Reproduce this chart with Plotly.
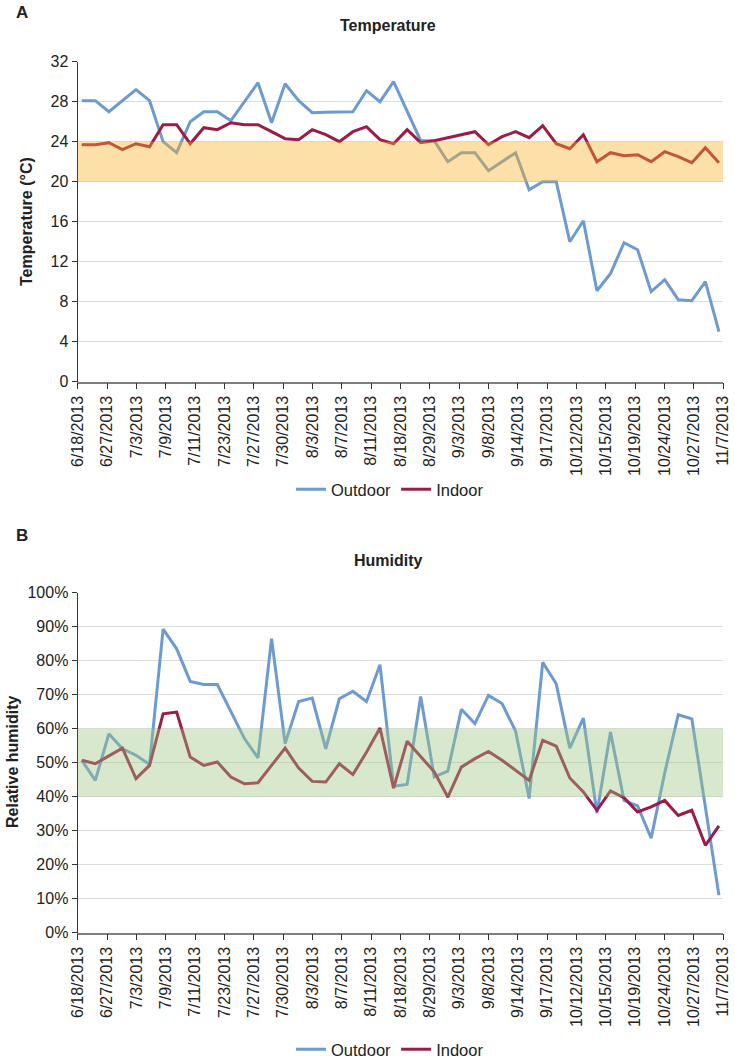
import numpy as np
import plotly.graph_objects as go

tick_labels = ["6/18/2013", "6/27/2013", "7/3/2013", "7/9/2013", "7/11/2013", "7/23/2013",
               "7/27/2013", "7/30/2013", "8/3/2013", "8/7/2013", "8/11/2013", "8/18/2013",
               "8/29/2013", "9/3/2013", "9/8/2013", "9/14/2013", "9/17/2013", "10/12/2013",
               "10/15/2013", "10/19/2013", "10/24/2013", "10/27/2013", "11/7/2013"]

temp_outdoor = [28.1, 28.1, 27.0, 28.1, 29.2, 28.1, 24.0, 22.9, 26.0, 27.0,
                27.0, 26.1, 28.0, 29.9, 25.9, 29.8, 28.1, 26.9, 26.95, 27.0,
                27.0, 29.1, 28.0, 30.0, 27.0, 24.1, 24.1, 22.0, 22.9, 22.9,
                21.1, 22.0, 22.9, 19.2, 20.0, 20.0, 14.0, 16.1, 9.1, 10.8,
                13.9, 13.2, 9.0, 10.2, 8.2, 8.1, 10.0, 5.0]
temp_indoor = [23.7, 23.7, 23.9, 23.2, 23.8, 23.5, 25.7, 25.7, 23.8, 25.4,
               25.2, 25.9, 25.7, 25.7, 25.0, 24.3, 24.2, 25.2, 24.7, 24.0,
               25.0, 25.5, 24.2, 23.8, 25.2, 23.9, 24.1, 24.4, 24.7, 25.0,
               23.7, 24.5, 25.0, 24.4, 25.6, 23.8, 23.3, 24.7, 22.0, 22.9,
               22.6, 22.7, 22.0, 23.0, 22.5, 21.9, 23.4, 21.9]
hum_outdoor = [50.7, 44.8, 58.5, 54.1, 52.2, 49.5, 89.3, 83.5, 73.9, 73.0,
               73.0, 65.1, 57.1, 51.4, 86.5, 55.6, 68.0, 69.0, 54.1, 68.8,
               71.0, 68.0, 78.8, 43.1, 43.6, 69.5, 45.8, 47.5, 65.7, 61.5,
               69.8, 67.4, 59.3, 39.5, 79.5, 73.2, 54.3, 63.1, 35.2, 59.0,
               38.9, 37.3, 27.8, 47.0, 64.1, 62.9, 37.0, 11.0]
hum_indoor = [50.7, 49.7, 52.0, 54.3, 45.3, 49.2, 64.4, 64.9, 51.7, 49.2,
              50.2, 45.8, 43.8, 44.1, 49.2, 54.3, 48.4, 44.5, 44.3, 49.7,
              46.5, 53.1, 60.2, 42.5, 56.3, 51.7, 47.3, 39.9, 48.7, 51.2,
              53.3, 50.7, 47.7, 44.8, 56.6, 54.9, 45.5, 41.4, 36.0, 41.7,
              39.7, 35.5, 37.0, 38.9, 34.5, 36.0, 25.7, 31.4]

temp_band = (20, 24)
hum_band = (40, 60)

BLUE = "#6C9BD2"
RED = "#9B1C47"
FONT = "Liberation Sans, Arial, sans-serif"
TXT = "#222222"

n = len(temp_outdoor)
x = list(range(n))
xr = [-0.3, n - 1 + 0.3]
tickpos = np.linspace(xr[0], xr[1], len(tick_labels))

W, H = 735, 1062
def fy(px):
    return 1 - px / H

fig = go.Figure()
fig.add_trace(go.Scatter(x=x, y=temp_outdoor, mode="lines", name="Outdoor",
                         line=dict(color=BLUE, width=3), xaxis="x", yaxis="y", legend="legend"))
fig.add_trace(go.Scatter(x=x, y=temp_indoor, mode="lines", name="Indoor",
                         line=dict(color=RED, width=3), xaxis="x", yaxis="y", legend="legend"))
fig.add_trace(go.Scatter(x=x, y=hum_outdoor, mode="lines", name="Outdoor",
                         line=dict(color=BLUE, width=3), xaxis="x2", yaxis="y2", legend="legend2"))
fig.add_trace(go.Scatter(x=x, y=hum_indoor, mode="lines", name="Indoor",
                         line=dict(color=RED, width=3), xaxis="x2", yaxis="y2", legend="legend2"))

xdom = [77.7 / W, 723 / W]
xaxis_common = dict(range=xr, tickmode="array", tickvals=tickpos, ticktext=tick_labels,
                    tickangle=-90, showgrid=False, zeroline=False, showline=True,
                    linecolor="#7f7f7f", linewidth=1.5, ticks="outside", ticklen=6,
                    tickcolor="#333333", tickwidth=1, automargin=False,
                    tickfont=dict(family=FONT, size=16, color=TXT), domain=xdom)
yaxis_common = dict(showgrid=True, gridcolor="#DCDCDC", gridwidth=1.2, zeroline=False,
                    showline=True, linecolor="#333333", linewidth=1.2, ticks="outside",
                    ticklen=5, tickcolor="#333333", automargin=False,
                    tickfont=dict(family=FONT, size=16, color=TXT))

fig.update_layout(
    width=W, height=H, margin=dict(l=0, r=0, t=0, b=0, autoexpand=False),
    paper_bgcolor="white", plot_bgcolor="white",
    font=dict(family=FONT, size=16, color=TXT),
    xaxis=dict(**xaxis_common, anchor="y"),
    yaxis=dict(**yaxis_common, range=[0, 32], dtick=4, tick0=0, domain=[fy(381.7), fy(61.7)], anchor="x"),
    xaxis2=dict(**xaxis_common, anchor="y2"),
    yaxis2=dict(**yaxis_common, range=[0, 100], dtick=10, tick0=0, ticksuffix="%",
                domain=[fy(932.7), fy(592.7)], anchor="x2"),
    legend=dict(orientation="h", x=390 / W, xanchor="center", y=fy(472), yanchor="top",
                itemwidth=30, font=dict(family=FONT, size=16.5, color=TXT), bgcolor="rgba(0,0,0,0)"),
    legend2=dict(orientation="h", x=390 / W, xanchor="center", y=fy(1032), yanchor="top",
                 itemwidth=30, font=dict(family=FONT, size=16.5, color=TXT), bgcolor="rgba(0,0,0,0)"),
    shapes=[
        dict(type="rect", xref="x domain", yref="y", x0=0, x1=1, y0=temp_band[0], y1=temp_band[1],
             fillcolor="rgb(250,177,37)", opacity=0.4, line=dict(width=0), layer="above"),
        dict(type="rect", xref="x2 domain", yref="y2", x0=0, x1=1, y0=hum_band[0], y1=hum_band[1],
             fillcolor="rgb(157,197,127)", opacity=0.4, line=dict(width=0), layer="above"),
    ],
    annotations=[
        dict(text="<b>A</b>", x=14 / W, y=fy(1), xref="paper", yref="paper", xanchor="left",
             yanchor="top", showarrow=False, font=dict(family=FONT, size=17, color=TXT)),
        dict(text="<b>Temperature</b>", x=388 / W, y=fy(25), xref="paper", yref="paper",
             xanchor="center", yanchor="middle", showarrow=False, font=dict(family=FONT, size=16, color=TXT)),
        dict(text="<b>Temperature (°C)</b>", x=27 / W, y=fy(222), xref="paper", yref="paper",
             xanchor="center", yanchor="middle", textangle=-90, showarrow=False,
             font=dict(family=FONT, size=16, color=TXT)),
        dict(text="<b>B</b>", x=14 / W, y=fy(524), xref="paper", yref="paper", xanchor="left",
             yanchor="top", showarrow=False, font=dict(family=FONT, size=17, color=TXT)),
        dict(text="<b>Humidity</b>", x=388 / W, y=fy(560), xref="paper", yref="paper",
             xanchor="center", yanchor="middle", showarrow=False, font=dict(family=FONT, size=16, color=TXT)),
        dict(text="<b>Relative humidity</b>", x=12 / W, y=fy(762), xref="paper", yref="paper",
             xanchor="center", yanchor="middle", textangle=-90, showarrow=False,
             font=dict(family=FONT, size=16, color=TXT)),
    ],
)

fig.write_html("out.html", config={"displayModeBar": False},
               post_script="document.body.style.margin='0';")
